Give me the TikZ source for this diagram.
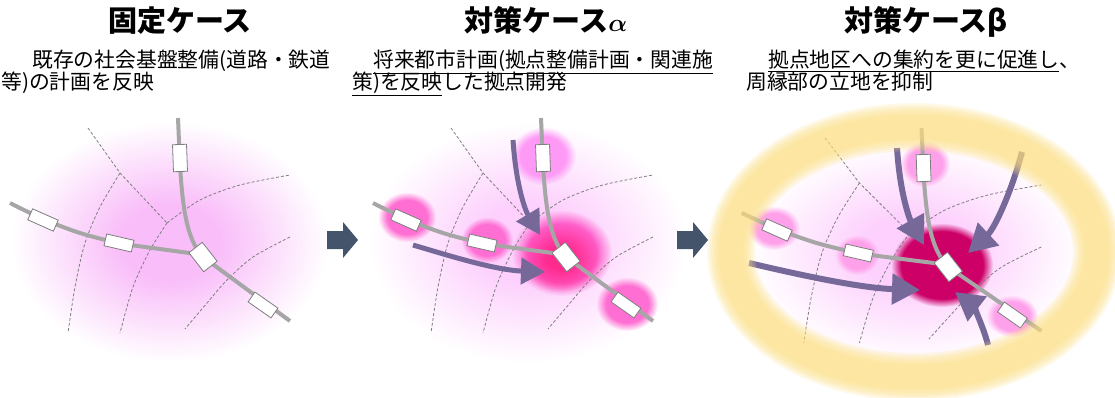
\documentclass[tikz,border=0pt]{standalone}
\usepackage{fontspec}
\setmainfont{Noto Sans CJK JP}
\usetikzlibrary{arrows.meta}
\usetikzlibrary{fadings}

\definecolor{glowpink}{HTML}{F9BEF9}
\definecolor{hazepink}{HTML}{FDD0FD}
\definecolor{spotpink}{HTML}{FF6ED2}
\definecolor{spotlilac}{HTML}{FF99F6}
\definecolor{halopink}{HTML}{FF5CC8}
\definecolor{hotpink}{HTML}{FF2A8E}
\definecolor{palespot}{HTML}{FFA0EA}
\definecolor{deepmagenta}{HTML}{CC0066}
\definecolor{flowpurple}{HTML}{76699A}
\definecolor{slate}{HTML}{44546A}
\definecolor{ringgold}{HTML}{FBDC7E}
\definecolor{railgray}{HTML}{A6A6A6}
\definecolor{streetgray}{HTML}{7F7F7F}

% soft edged spots: white = opaque, black = clear
\pgfdeclareradialshading{hazeshade}{\pgfpointorigin}{color(0bp)=(white); color(8bp)=(white); color(25bp)=(black); color(50bp)=(black)}
\pgfdeclarefading{haze}{\pgfuseshading{hazeshade}}
\pgfdeclareradialshading{spotshade}{\pgfpointorigin}{color(0bp)=(white); color(17bp)=(white); color(25bp)=(black); color(50bp)=(black)}
\pgfdeclarefading{spot}{\pgfuseshading{spotshade}}
\pgfdeclareradialshading{coreshade}{\pgfpointorigin}{color(0bp)=(white); color(20bp)=(white); color(25bp)=(black); color(50bp)=(black)}
\pgfdeclarefading{core}{\pgfuseshading{coreshade}}

\tikzset{
    title/.style={font=\fontsize{29}{34}\selectfont\bfseries, anchor=base, inner sep=0},
    note/.style={font=\fontsize{20.8}{25}\selectfont, anchor=base west, inner sep=0},
    street/.style={draw=streetgray, line width=0.8pt, dash pattern=on 3pt off 2pt},
    rail/.style={draw=railgray, line width=4pt},
    station/.style={draw=streetgray, fill=white, line width=0.8pt, inner sep=0,
        minimum width=28pt, minimum height=12pt},
    flow/.style={draw=flowpurple, line width=5pt, -{Triangle[length=24pt, width=26pt]}},
    bigflow/.style={draw=flowpurple, line width=6pt, -{Triangle[length=28pt, width=30pt]}},
    nextstep/.style={fill=slate},
}

% streets, railway and stations of one district
\newcommand{\railnet}{%
    \draw[street] (88,128) -- (120,173) -- (167,223);
    \draw[street] plot[smooth] coordinates {(120,173) (100,207) (85,243) (75,287) (68,333)};
    \draw[street] plot[smooth] coordinates {(167,223) (150,250) (133,287) (120,333)};
    \draw[street] plot[smooth] coordinates {(167,223) (200,200) (240,185) (290,175)};
    \draw[street] plot[smooth] coordinates {(290,237) (253,257) (227,280) (207,303) (185,329)};
    \coordinate (w) at (10,203);
    \coordinate (n) at (178,118);
    \coordinate (e) at (290,321);
    \draw[rail] plot[smooth] coordinates {(w) (43,219) (80,233) (119,243) (160,249) (197,254)};
    \draw[rail] (n) -- (180,165) .. controls (183,215) and (188,238) .. (201,255);
    \draw[rail] (203,257) -- (e);
    \node[station, rotate=-24] (st1) at (43,220) {};
    \node[station, rotate=-13] (st2) at (119,243) {};
    \node[station, rotate=-88, minimum width=27pt, minimum height=14pt] (st3) at (180,158) {};
    \node[station, rotate=-35] (st4) at (263,305) {};
    \node[station, rotate=-52, minimum width=24pt, minimum height=17pt] (hub) at (203,257) {};
}

\begin{document}
\begin{tikzpicture}[x=1pt, y=-1pt]
    \useasboundingbox (0,0) rectangle (1115,398);

    % fixed case
    \fill[glowpink, path fading=haze] (170,242) ellipse (158 and 120);
    \railnet

    % case alpha
    \fill[hazepink, path fading=haze] (528,243) ellipse (158 and 120);
    \fill[spotlilac, path fading=spot] (543,156) ellipse (33 and 29);
    \fill[spotpink, path fading=spot] (407,217) ellipse (29 and 25);
    \fill[spotpink, path fading=spot] (487,240) ellipse (26 and 23);
    \fill[spotpink, path fading=spot] (627,304) ellipse (31 and 27);
    \fill[halopink, path fading=spot] (562,253) ellipse (50 and 43);
    \fill[hotpink, path fading=haze] (560,258) ellipse (40 and 34);
    \begin{scope}[shift={(363,0)}]
        \railnet
    \end{scope}
    \coordinate (a1) at (513,140);
    \coordinate (a1t) at (540,235);
    \coordinate (a2) at (413,245);
    \coordinate (a2t) at (545,272);
    \draw[flow] (a1) .. controls (516,185) and (525,210) .. (a1t);
    \draw[flow] (a2) .. controls (450,256) and (495,270) .. (a2t);

    % case beta
    \fill[hazepink, path fading=haze] (915,252) ellipse (165 and 110);
    \fill[palespot, path fading=spot] (925,164) ellipse (25 and 23);
    \fill[palespot, path fading=spot] (774,228) ellipse (26 and 22);
    \fill[palespot, path fading=spot] (857,255) ellipse (22 and 20);
    \fill[palespot, path fading=spot] (1012,316) ellipse (26 and 21);
    \fill[deepmagenta, path fading=core] (942,265) ellipse (51 and 42);
    \begin{scope}[shift={(731,10)}, xscale=1.07]
        \railnet
    \end{scope}
    \coordinate (b1) at (897,148);
    \coordinate (b1t) at (924,245);
    \coordinate (b2) at (1022,152);
    \coordinate (b2t) at (968,253);
    \coordinate (b3) at (749,263);
    \coordinate (b3t) at (920,290);
    \coordinate (b4) at (988,345);
    \coordinate (b4t) at (955,292);
    \draw[bigflow] (b1) .. controls (900,195) and (910,220) .. (b1t);
    \draw[bigflow] (b2) .. controls (1012,190) and (995,228) .. (b2t);
    \draw[bigflow] (b3) .. controls (800,275) and (860,288) .. (b3t);
    \draw[bigflow] (b4) .. controls (983,325) and (972,305) .. (b4t);
    % soft belt round the district
    \foreach \w in {48,44,...,24}
        \draw[ringgold, opacity=0.17, line width=\w pt] (914,252) ellipse (183 and 125);

    % block arrows between the cases
    \foreach \x in {327,677}
        \fill[nextstep, shift={(\x,240)}] (0,-9) -- (16,-9) -- (16,-18) -- (31,0)
            -- (16,18) -- (16,9) -- (0,9) -- cycle;

    % headings
    \node[title] (t1) at (180,32) {固定ケース};
    \node[title] (t2) at (546,32) {対策ケース{\boldmath$\alpha$}};
    \node[title] (t3) at (926,32) {対策ケースβ};
    \node[note] (n11) at (32,68) {既存の社会基盤整備(道路・鉄道};
    \node[note] (n12) at (1,90) {等)の計画を反映};
    \node[note] (n21) at (373,68) {\underline{将来都市計画(拠点整備計画・関連施}};
    \node[note] (n22) at (352,90) {\underline{策)を反映}した拠点開発};
    \node[note] (n31) at (768,68) {\underline{拠点地区への集約を更に促進し}、};
    \node[note] (n32) at (746,90) {周縁部の立地を抑制};
\end{tikzpicture}
\end{document}
